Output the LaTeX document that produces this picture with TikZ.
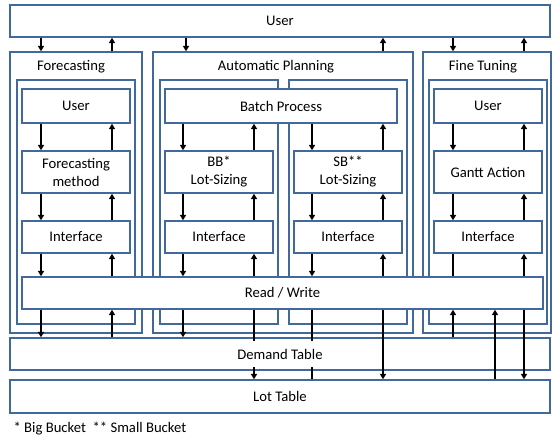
\documentclass[tikz,border=0pt]{standalone}
\usepackage{fontspec}
\setmainfont{Carlito}
\usetikzlibrary{arrows.meta}
\definecolor{bordc}{RGB}{65,105,155}
\begin{document}
\begin{tikzpicture}[x=0.75pt,y=-0.75pt,
  sz/.style 2 args={minimum width=#1*0.75pt, minimum height=#2*0.75pt},
  box/.style={draw=bordc, line width=1.1pt, fill=white, inner sep=0pt, align=center, font=\fontsize{11}{13.5}\selectfont},
  frame/.style={draw=bordc, line width=1.1pt, inner sep=0pt},
  lbl/.style={font=\fontsize{11}{13.5}\selectfont, inner sep=1pt},
  arr/.style={draw=black, line width=1.4pt, -{Triangle[length=4pt,width=4.5pt]}},
  ln/.style={draw=black, line width=1.4pt}]
\useasboundingbox (0,0) rectangle (553,439);
% column coordinates
\coordinate (c1) at (41,0);
\coordinate (c2) at (112,0);
\coordinate (c3) at (183,0);
\coordinate (c4) at (254,0);
\coordinate (c5) at (312,0);
\coordinate (c6) at (383,0);
\coordinate (c7) at (453,0);
\coordinate (c8) at (524,0);
\coordinate (ct) at (186,0);
\coordinate (c9) at (495,0);
% top user
\node[box, sz={540}{32}] (user) at (280,21) {User};
% forecasting
\node[frame, sz={132}{281}] (fouter) at (76,192.5) {};
\node[lbl] (flabel) at (71,67) {Forecasting};
\node[frame, sz={118}{244}] (finner) at (76,202) {};
\node[box, sz={108}{34}] (fuser) at (76,106) {User};
\node[box, sz={108}{42}] (fmeth) at (76,172) {Forecasting\\method};
\node[box, sz={108}{32}] (fint) at (76,237) {Interface};
% automatic planning
\node[frame, sz={260}{281}] (aouter) at (283,192.5) {};
\node[lbl] (alabel) at (276,67) {Automatic Planning};
\node[frame, sz={118}{244}] (ainl) at (219,202) {};
\node[frame, sz={118}{244}] (ainr) at (348,202) {};
\node[box, sz={232}{34}] (batch) at (281,106) {Batch Process};
\node[box, sz={108}{42}] (bb) at (219,172) {BB*\\Lot-Sizing};
\node[box, sz={108}{32}] (bbint) at (219,237) {Interface};
\node[box, sz={108}{42}] (sb) at (348,172) {SB**\\Lot-Sizing};
\node[box, sz={108}{32}] (sbint) at (348,237) {Interface};
% fine tuning
\node[frame, sz={128}{281}] (touter) at (487,192.5) {};
\node[lbl] (tlabel) at (483,67) {Fine Tuning};
\node[frame, sz={118}{244}] (tinner) at (488,202) {};
\node[box, sz={108}{34}] (tuser) at (488,106) {User};
\node[box, sz={108}{42}] (gantt) at (488,172) {Gantt Action};
\node[box, sz={108}{32}] (tint) at (488,237) {Interface};
% hidden arrow tip into read/write
\coordinate (rwhid) at (453,283);
\draw[arr] (tint.south -| c7) -- (rwhid);
% read/write and tables
\node[box, sz={521}{32}] (rw) at (282.5,293) {Read / Write};
\node[box, sz={540}{32}] (demand) at (280,354) {};
\node[box, sz={540}{33}] (lot) at (280,396.5) {Lot Table};
% lines passing behind demand label
\draw[arr] (rw.south -| c4) -- (lot.north -| c4);
\draw[ln] (rw.south -| c5) -- (lot.north -| c5);
\node[lbl, fill=white, minimum height=19pt, inner xsep=4pt] (dlabel) at (demand.center) {Demand Table};
% top arrows
\draw[arr] (user.south -| c1) -- (fouter.north -| c1);
\draw[arr] (fouter.north -| c2) -- (user.south -| c2);
\draw[arr] (user.south -| ct) -- (aouter.north -| ct);
\draw[arr] (aouter.north -| c6) -- (user.south -| c6);
\draw[arr] (user.south -| c7) -- (touter.north -| c7);
\draw[arr] (touter.north -| c8) -- (user.south -| c8);
% forecasting column
\draw[arr] (fuser.south -| c1) -- (fmeth.north -| c1);
\draw[arr] (fmeth.north -| c2) -- (fuser.south -| c2);
\draw[arr] (fmeth.south -| c1) -- (fint.north -| c1);
\draw[arr] (fint.north -| c2) -- (fmeth.south -| c2);
\draw[arr] (fint.south -| c1) -- (rw.north -| c1);
\draw[arr] (rw.north -| c2) -- (fint.south -| c2);
% BB column
\draw[arr] (batch.south -| c3) -- (bb.north -| c3);
\draw[arr] (bb.north -| c4) -- (batch.south -| c4);
\draw[arr] (bb.south -| c3) -- (bbint.north -| c3);
\draw[arr] (bbint.north -| c4) -- (bb.south -| c4);
\draw[arr] (bbint.south -| c3) -- (rw.north -| c3);
\draw[arr] (rw.north -| c4) -- (bbint.south -| c4);
% SB column
\draw[arr] (batch.south -| c5) -- (sb.north -| c5);
\draw[arr] (sb.north -| c6) -- (batch.south -| c6);
\draw[arr] (sb.south -| c5) -- (sbint.north -| c5);
\draw[arr] (sbint.north -| c6) -- (sb.south -| c6);
\draw[arr] (sbint.south -| c5) -- (rw.north -| c5);
\draw[arr] (rw.north -| c6) -- (sbint.south -| c6);
% FT column
\draw[arr] (tuser.south -| c7) -- (gantt.north -| c7);
\draw[arr] (gantt.north -| c8) -- (tuser.south -| c8);
\draw[arr] (gantt.south -| c7) -- (tint.north -| c7);
\draw[arr] (tint.north -| c8) -- (gantt.south -| c8);
\draw[arr] (rw.north -| c8) -- (tint.south -| c8);
% below read/write
\draw[arr] (rw.south -| c1) -- (demand.north -| c1);
\draw[arr] (demand.north -| c2) -- (rw.south -| c2);
\draw[arr] (rw.south -| c3) -- (demand.north -| c3);
\draw[arr] (rw.south -| c6) -- (lot.north -| c6);
\draw[arr] (demand.north -| c7) -- (rw.south -| c7);
\draw[arr] (lot.north -| c9) -- (rw.south -| c9);
\draw[arr] (rw.south -| c8) -- (lot.north -| c8);
% footnote
\node[lbl, anchor=west] (note) at (12,429) {* Big Bucket\ \ ** Small Bucket};
\end{tikzpicture}
\end{document}
